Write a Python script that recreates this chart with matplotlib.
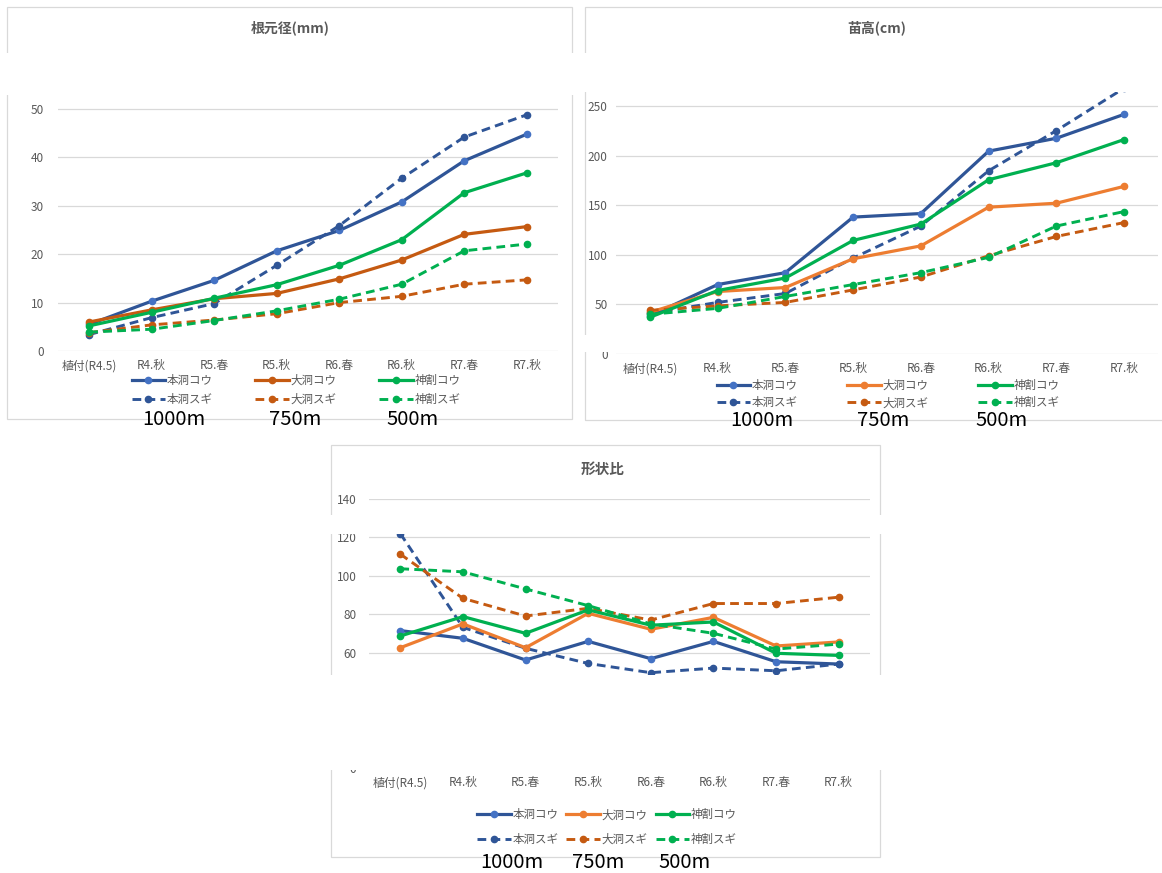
import matplotlib

matplotlib.use("Agg")

import matplotlib.pyplot as plt  # noqa: E402
from matplotlib.lines import Line2D  # noqa: E402
from matplotlib.patches import Rectangle  # noqa: E402

plt.rcParams["font.family"] = ["Noto Sans CJK JP", "DejaVu Sans"]

W, H = 1162, 873

categories = ["植付(R4.5)", "R4.秋", "R5.春", "R5.秋", "R6.春", "R6.秋", "R7.春", "R7.秋"]
series_names = ["本洞コウ", "本洞スギ", "大洞コウ", "大洞スギ", "神割コウ", "神割スギ"]
altitude_labels = ["1000m", "750m", "500m"]

# 根元径 (mm)
diam_honbora_kou = [5.5, 10.3, 14.6, 20.7, 24.9, 30.8, 39.3, 44.8]
diam_honbora_sugi = [3.4, 6.9, 9.8, 17.7, 25.9, 35.7, 44.2, 48.8]
diam_ohbora_kou = [6.0, 8.5, 10.8, 11.9, 14.9, 18.8, 24.1, 25.7]
diam_ohbora_sugi = [3.8, 5.4, 6.4, 7.7, 10.0, 11.3, 13.8, 14.7]
diam_kamiwari_kou = [5.2, 8.0, 10.9, 13.7, 17.7, 23.0, 32.7, 36.8]
diam_kamiwari_sugi = [3.9, 4.5, 6.3, 8.3, 10.7, 13.8, 20.7, 22.1]

# 苗高 (cm)
height_honbora_kou = [38.5, 70, 82, 138, 141.6, 204.5, 217.5, 241.6]
height_honbora_sugi = [41, 52, 61, 96.7, 129, 184.7, 225.2, 268]
height_ohbora_kou = [42, 63, 67, 96, 109, 148, 152, 169]
height_ohbora_sugi = [44, 48.5, 52, 64.6, 77.6, 99, 118.5, 132.5]
height_kamiwari_kou = [37, 64, 76.6, 114.5, 131, 175.7, 192.8, 216.2]
height_kamiwari_sugi = [40, 46, 58, 70, 82, 97.4, 129, 143.6]

# 形状比
ratio_honbora_kou = [71.5, 67.5, 56.2, 65.9, 56.9, 65.9, 55.3, 54.1]
ratio_honbora_sugi = [122, 73.2, 62.3, 54.4, 49.6, 52.0, 50.6, 54.1]
ratio_ohbora_kou = [62.6, 75.0, 62.6, 80.5, 72.2, 78.4, 63.5, 65.6]
ratio_ohbora_sugi = [111.3, 88.3, 79.1, 83.1, 77.0, 85.6, 85.6, 88.9]
ratio_kamiwari_kou = [68.7, 78.8, 70.1, 82.3, 74.3, 76.0, 59.7, 58.6]
ratio_kamiwari_sugi = [103.7, 102.1, 93.2, 84.5, 75.0, 70.1, 61.9, 64.5]

BLUE = "#2F5597"
BLUE_MK = "#4472C4"
ORANGE_DARK = "#C55A11"
ORANGE = "#ED7D31"
GREEN = "#00B050"
GRID = "#D9D9D9"
TEXT = "#595959"


def frect(x0, y0, x1, y1):
    """Pixel box (top-left origin) -> figure fraction rect."""
    return (x0 / W, 1 - y1 / H, (x1 - x0) / W, (y1 - y0) / H)


def fpt(x, y):
    return x / W, 1 - y / H


def frame(fig, x0, y0, x1, y1):
    l, b, w, h = frect(x0, y0, x1, y1)
    fig.add_artist(Rectangle((l, b), w, h, transform=fig.transFigure,
                             facecolor="none", edgecolor=GRID, lw=0.9, zorder=1))


def blank(fig, x0, y0, x1, y1):
    l, b, w, h = frect(x0, y0, x1, y1)
    fig.add_artist(Rectangle((l, b), w, h, transform=fig.transFigure,
                             facecolor="white", edgecolor="none", zorder=10))


def panel(fig, box, ylim, yticks, series, colors, ypad, legend_xy, colspace, rowspace):
    ax = fig.add_axes(frect(*box))
    xs = range(len(categories))
    handles = []
    for (vals, style), (lc, mc) in zip(series, colors):
        kw = dict(color=lc, marker="o", ms=4.5, mfc=mc, mec=mc)
        if style == "-":
            kw["lw"] = 2.3
        else:
            kw["lw"] = 2.1
            kw["dashes"] = (3, 1.8)
        ax.plot(xs, vals, zorder=3, **kw)
        handles.append(Line2D([], [], **kw))
    ax.set_xlim(-0.5, len(categories) - 0.5)
    ax.set_ylim(*ylim)
    ax.set_yticks(yticks)
    ax.set_xticks(list(xs))
    ax.set_xticklabels(categories)
    ax.grid(axis="y", color=GRID, lw=0.9)
    ax.set_axisbelow(True)
    for s in ax.spines.values():
        s.set_visible(False)
    ax.tick_params(length=0, labelsize=8.5, labelcolor=TEXT)
    ax.tick_params(axis="y", pad=ypad)
    ax.tick_params(axis="x", pad=6)
    fig.legend(handles, series_names, ncol=3, loc="center",
               bbox_to_anchor=fpt(*legend_xy), frameon=False, fontsize=8.3,
               labelcolor=TEXT, handlelength=2.9, handletextpad=0.15,
               columnspacing=colspace, labelspacing=rowspace, borderpad=0)
    return ax


fig = plt.figure(figsize=(W / 100, H / 100), dpi=100)

colors_dark = [(BLUE, BLUE_MK), (BLUE, BLUE), (ORANGE_DARK, ORANGE_DARK),
               (ORANGE_DARK, ORANGE_DARK), (GREEN, GREEN), (GREEN, GREEN)]
colors_light = [(BLUE, BLUE_MK), (BLUE, BLUE), (ORANGE, ORANGE),
                (ORANGE_DARK, ORANGE_DARK), (GREEN, GREEN), (GREEN, GREEN)]

# 根元径
frame(fig, 7, 7, 572, 419)
panel(fig, (58, 95, 558, 351), (0, (351 - 95) / 4.84), range(0, 51, 10),
      [(diam_honbora_kou, "-"), (diam_honbora_sugi, "--"),
       (diam_ohbora_kou, "-"), (diam_ohbora_sugi, "--"),
       (diam_kamiwari_kou, "-"), (diam_kamiwari_sugi, "--")],
      colors_dark, 10, (296, 390), 3.7, 0.55)
fig.text(*fpt(290, 28), "根元径(mm)", ha="center", va="center",
         fontsize=10, fontweight="bold", color=TEXT)

# 苗高
frame(fig, 585, 7, 1170, 420)
panel(fig, (616, 92, 1158, 354), (0, (354 - 92) / 0.992), range(0, 251, 50),
      [(height_honbora_kou, "-"), (height_honbora_sugi, "--"),
       (height_ohbora_kou, "-"), (height_ohbora_sugi, "--"),
       (height_kamiwari_kou, "-"), (height_kamiwari_sugi, "--")],
      colors_light, 6, (888, 394), 4.3, 0.4)
fig.text(*fpt(877, 28), "苗高(cm)", ha="center", va="center",
         fontsize=10, fontweight="bold", color=TEXT)

# 形状比
frame(fig, 331, 445, 880, 857)
panel(fig, (369, 499, 870, 768), (0, 140), range(0, 141, 20),
      [(ratio_honbora_kou, "-"), (ratio_honbora_sugi, "--"),
       (ratio_ohbora_kou, "-"), (ratio_ohbora_sugi, "--"),
       (ratio_kamiwari_kou, "-"), (ratio_kamiwari_sugi, "--")],
      colors_light, 9, (607, 827), 0.7, 1.0)
fig.text(*fpt(603, 469), "形状比", ha="center", va="center",
         fontsize=10.5, fontweight="bold", color=TEXT)

# cut bands between the pasted chart pieces
blank(fig, 0, 53, 578, 95)
blank(fig, 578, 53, 1162, 92)
blank(fig, 578, 335, 1162, 352)
blank(fig, 320, 515, 890, 534)
blank(fig, 320, 675, 890, 769.5)

# altitude captions under each legend
caption_rows = [[(174, 419), (295, 419), (413, 419)],
                [(762, 420), (883, 420), (1002, 420)],
                [(512, 862), (598, 862), (685, 862)]]
for row in caption_rows:
    for (x, y), label in zip(row, altitude_labels):
        fig.text(*fpt(x, y), label, ha="center", va="center",
                 fontsize=14.5, color="black", zorder=11)

fig.savefig("out.png", dpi=100)
